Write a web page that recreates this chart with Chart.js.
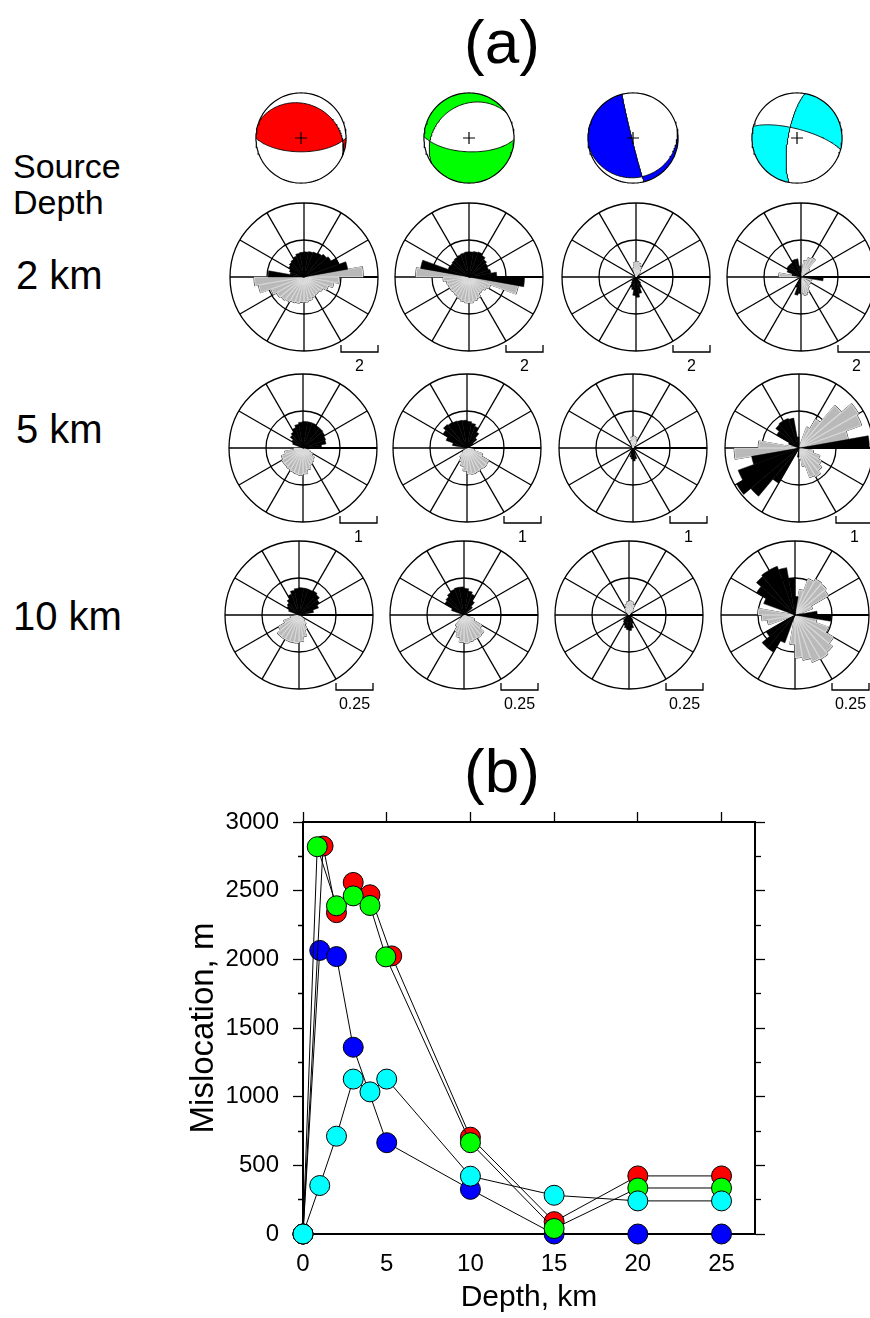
<!DOCTYPE html>
<html><head><meta charset="utf-8">
<script src="https://cdn.jsdelivr.net/npm/chart.js@4.4.1/dist/chart.umd.min.js"></script>
<style>
html,body{margin:0;padding:0;background:#fff;}
body{width:870px;height:1318px;position:relative;overflow:hidden;font-family:"Liberation Sans",Arial,sans-serif;color:#000;}
.t{position:absolute;line-height:1;white-space:nowrap;}
canvas{position:absolute;}
</style></head><body>
<div class="t" style="left:402px;width:200px;text-align:center;top:11px;font-size:62px;">(a)</div>
<div class="t" style="left:402px;width:200px;text-align:center;top:740px;font-size:62px;">(b)</div>
<div class="t" style="left:13px;top:149px;font-size:34px;">Source</div>
<div class="t" style="left:13px;top:184.5px;font-size:34px;">Depth</div>
<div class="t" id="d0" style="left:16px;top:255.4px;font-size:40px;"></div>
<div class="t" id="d1" style="left:16px;top:409.4px;font-size:40px;"></div>
<div class="t" id="d2" style="left:13px;top:596px;font-size:40px;"></div>
<script>
// ---------------- DATA ----------------
const depthLabels = ['2 km', '5 km', '10 km'];
const scaleBarValues = [2, 1, 0.25];
const scaleBarLabels = ['2', '1', '0.25'];
const azimuthBins = ['0','10','20','30','40','50','60','70','80','90','100','110','120','130','140','150','160','170',
  '180','190','200','210','220','230','240','250','260','270','280','290','300','310','320','330','340','350'];

// focal mechanisms (two nodal planes) and a point known to be in the shaded quadrant
const mechColors = ['#ff0000', '#00ff00', '#0000ff', '#00ffff'];
const mechStrike1 = [292, 236, 166, 285];
const mechDip1 = [25, 27, 88, 74];
const mechStrike2 = [90, 92, 80, 190];
const mechDip2 = [65, 65, 13, 74];
const mechShadedX = [0, 0, -0.8, 0.6];
const mechShadedY = [0, 0.95, 0, 0.6];

// rose diagrams, 10-degree azimuth bins (black and grey)
const rose2kmRedBlack = [1.36,1.4,1.44,1.5,1.6,1.7,2.0,2.4,0, 0,0,0,0,0,0,0,0,0,0,0,0,0,0,0,0,0,0, 1.94,0.76,0.84,0.96,1.04,1.1,1.2,1.3,1.34];
const rose2kmRedGray = [0,0,0,0,0,0,0,0,3.2,1.9,1.64,1.4,1.2,1.12,1.14,1.2,1.3,1.36,1.38,1.44,1.48,1.56,1.64,1.72,1.9,2.5,2.7,0,0,0,0,0,0,0,0,0];
const rose2kmGreenBlack = [1.36,1.4,1.44,1.36,1.24,1.16,1.12,1.2,1.5,3.0, 0,0,0,0,0,0,0,0,0,0,0,0,0,0,0,0,0,0, 2.66,1.2,1.16,1.2,1.24,1.28,1.32,1.36];
const rose2kmGreenGray = [0,0,0,0,0,0,0,0,0,0, 2.7,1.24,1.1,1.0,1.04,1.24,1.32,1.4,1.4,1.36,1.28,1.2,1.16,1.2,1.2,1.24,1.4,2.88, 0,0,0,0,0,0,0,0];
const rose2kmBlueBlack = [0,0,0,0,0,0,0,0,0,0,0,0,0,0, 0.4,0.6,0.9,1.1,1.0,0.7,0.6,0.4,0.3, 0,0,0,0,0,0,0,0,0,0,0,0,0];
const rose2kmBlueGray = [0.84,0.76,0.6,0.4, 0,0,0,0,0,0,0,0,0,0,0,0,0,0,0,0,0,0,0,0,0,0,0,0,0,0,0,0,0,0, 0.5,0.8];
const rose2kmCyanBlack = [0,0,0,0,0,0,0,0,0, 1.2, 0,0,0,0,0,0,0,0, 0.9,1.0,0.6, 0,0,0,0,0,0,0, 0.5,0.8,0.9,0.9,0.9,1.0,1.0,0.6];
const rose2kmCyanGray = [0,0.9,1.1,1.2,0.6,0,0,0,0,0, 0.6,0,0.6,0,0.7,0.9,1.0,0.9, 0,0,0,0,0,0,0,0,0, 1.2, 0,0,0,0,0,0,0,0];

const rose5kmRedBlack = [0.72,0.72,0.72,0.7,0.7,0.68,0.65,0.63,0.5, 0,0,0,0,0,0,0,0,0,0,0,0,0,0,0,0,0,0,0,0, 0.3,0.35,0.45,0.5,0.58,0.65,0.7];
const rose5kmRedGray = [0,0,0,0,0,0,0,0,0,0,0, 0.2,0.3,0.4,0.45,0.5,0.6,0.7,0.74,0.72,0.7,0.68,0.66,0.66,0.62,0.5,0.25, 0,0,0,0,0,0,0,0,0];
const rose5kmGreenBlack = [0.72,0.68,0.62,0.5,0.35,0.2, 0,0,0,0,0,0,0,0,0,0,0,0,0,0,0,0,0,0,0,0,0,0, 0.4,0.6,0.75,0.83,0.8,0.78,0.76,0.75];
const rose5kmGreenGray = [0,0,0,0,0,0,0,0,0,0, 0.2,0.45,0.68,0.7,0.68,0.7,0.72,0.7,0.62,0.5,0.4,0.3,0.15, 0,0,0,0,0,0,0,0,0,0,0,0,0];
const rose5kmBlueBlack = [0,0,0,0,0,0,0,0,0,0,0,0,0,0,0, 0.15,0.3,0.35,0.3,0.25,0.15, 0,0,0,0,0,0,0,0,0,0,0,0,0,0,0];
const rose5kmBlueGray = [0.32,0.3,0.2, 0,0,0,0,0,0,0,0,0,0,0,0,0,0,0,0,0,0,0,0,0,0,0,0,0,0,0,0,0,0,0, 0.2,0.3];
const rose5kmCyanBlack = [0,0,0,0,0,0,0,0, 1.9, 0,0,0,0,0,0,0,0,0, 0.25,0,0, 1.1,1.7,1.95,1.75,1.3, 0,0,0, 0.3,0.7,0.82,0.85,0.85,0.82,0.3];
const rose5kmCyanGray = [0,0,0.6,0.9,1.5,1.86,1.8,1.35,0,0,0.4,0.6,0.7,0.8,0.9,0.85,0.5,0.3,0,0,0,0,0,0,0,1.2,1.75,1.1,0,0,0,0,0,0,0,0];

const rose10kmRedBlack = [0.185,0.185,0.185,0.19,0.18,0.16,0.14,0.1,0.05, 0,0,0,0,0,0,0,0,0,0,0,0,0,0,0,0,0,0,0,0, 0.075,0.095,0.105,0.125,0.15,0.17,0.18];
const rose10kmRedGray = [0,0,0,0,0,0,0,0,0,0,0,0,0, 0.05,0.075,0.11,0.15,0.18,0.19,0.19,0.19,0.19,0.19,0.16,0.11,0.06, 0,0,0,0,0,0,0,0,0,0];
const rose10kmGreenBlack = [0.18,0.165,0.15,0.11,0.075, 0,0,0,0,0,0,0,0,0,0,0,0,0,0,0,0,0,0,0,0,0,0,0,0, 0.09,0.15,0.16,0.175,0.185,0.19,0.19];
const rose10kmGreenGray = [0,0,0,0,0,0,0,0,0,0,0, 0.075,0.14,0.175,0.18,0.18,0.185,0.19,0.185,0.155,0.125,0.09, 0,0,0,0,0,0,0,0,0,0,0,0,0,0];
const rose10kmBlueBlack = [0,0,0,0,0,0,0,0,0,0,0,0,0,0, 0.04,0.06,0.09,0.105,0.1,0.09,0.075,0.06,0.05, 0,0,0,0,0,0,0,0,0,0,0,0,0];
const rose10kmBlueGray = [0.095,0.09,0.075,0.05, 0,0,0,0,0,0,0,0,0,0,0,0,0,0,0,0,0,0,0,0,0,0,0,0,0,0,0,0, 0.04,0.055,0.075,0.09];
const rose10kmCyanBlack = [0.125, 0,0,0,0,0,0,0, 0.15,0.245, 0,0,0,0,0,0,0,0,0,0, 0.2,0.29,0.29,0.225, 0,0,0,0,0, 0.225,0.3,0.34,0.35,0.35,0.325,0.25];
const rose10kmCyanGray = [0, 0.175,0.26,0.28,0.275,0.26,0.125, 0,0,0, 0.15,0.24,0.3,0.33,0.345,0.34,0.31,0.29,0.2, 0,0,0,0,0,0, 0.19,0.225,0.25, 0,0,0,0,0,0,0,0];

// panel (b): mislocation vs depth
const depthRed = [0, 1.2, 2, 3, 4, 5.3, 10, 15, 20, 25];
const misRed = [0, 2825, 2340, 2560, 2470, 2025, 705, 90, 423, 423];
const depthGreen = [0, 0.85, 2, 3, 4, 4.95, 10, 15, 20, 25];
const misGreen = [0, 2820, 2390, 2462, 2392, 2018, 665, 40, 335, 335];
const depthBlue = [0, 1, 2, 3, 5, 10, 15, 20, 25];
const misBlue = [0, 2065, 2020, 1360, 665, 325, 0, 0, 0];
const depthCyan = [0, 1, 2, 3, 4, 5, 10, 15, 20, 25];
const misCyan = [0, 353, 712, 1128, 1035, 1128, 421, 282, 241, 241];

// ---------------- LAYOUT ----------------
const FF = '"Liberation Sans", Arial, sans-serif';
const roseCx = [[304, 469.3, 635.7, 800.7], [302.7, 467.3, 633.3, 799], [299, 464.3, 629.3, 795.3]];
const roseCy = [276.7, 447.7, 614.5];
const ballCx = [300.8, 468.8, 632.8, 797.2];
const ballCy = 138.2;

Chart.defaults.animation = false;
Chart.defaults.font.family = FF;
Chart.defaults.color = '#000';

depthLabels.forEach((t, i) => { document.getElementById('d' + i).textContent = t; });

const roseBlack = [
  [rose2kmRedBlack, rose2kmGreenBlack, rose2kmBlueBlack, rose2kmCyanBlack],
  [rose5kmRedBlack, rose5kmGreenBlack, rose5kmBlueBlack, rose5kmCyanBlack],
  [rose10kmRedBlack, rose10kmGreenBlack, rose10kmBlueBlack, rose10kmCyanBlack]];
const roseGray = [
  [rose2kmRedGray, rose2kmGreenGray, rose2kmBlueGray, rose2kmCyanGray],
  [rose5kmRedGray, rose5kmGreenGray, rose5kmBlueGray, rose5kmCyanGray],
  [rose10kmRedGray, rose10kmGreenGray, rose10kmBlueGray, rose10kmCyanGray]];

// ---------------- BEACH BALLS ----------------
const D2R = Math.PI / 180;
function cross(a, b) { return [a[1]*b[2]-a[2]*b[1], a[2]*b[0]-a[0]*b[2], a[0]*b[1]-a[1]*b[0]]; }
function dot(a, b) { return a[0]*b[0] + a[1]*b[1] + a[2]*b[2]; }
function planeVecs(strike, dip) {
  const s = strike * D2R, d = dip * D2R, dd = s + Math.PI / 2;
  return [[Math.cos(s), Math.sin(s), 0], [Math.cos(d)*Math.cos(dd), Math.cos(d)*Math.sin(dd), Math.sin(d)]];
}
function pole(strike, dip) { const [a, b] = planeVecs(strike, dip); return cross(a, b); }
function proj(v) {
  const th = Math.acos(Math.max(-1, Math.min(1, v[2])));
  const az = Math.atan2(v[1], v[0]);
  const r = Math.SQRT2 * Math.sin(th / 2);
  return {x: r * Math.sin(az), y: r * Math.cos(az)};
}
function inv(x, y) {
  const r = Math.hypot(x, y);
  const th = 2 * Math.asin(Math.min(1, r / Math.SQRT2));
  const az = Math.atan2(x, y);
  return [Math.sin(th)*Math.cos(az), Math.sin(th)*Math.sin(az), Math.cos(th)];
}
function planeCurve(strike, dip) {
  const [sh, dh] = planeVecs(strike, dip);
  const pts = [];
  for (let t = 0; t <= 180; t += 2) {
    const c = Math.cos(t * D2R), sn = Math.sin(t * D2R);
    pts.push(proj([c*sh[0]+sn*dh[0], c*sh[1]+sn*dh[1], c*sh[2]+sn*dh[2]]));
  }
  return pts;
}
function hexRgb(h) { return [parseInt(h.slice(1,3),16), parseInt(h.slice(3,5),16), parseInt(h.slice(5,7),16)]; }

const ballFillPlugin = {
  id: 'ballFill',
  beforeDatasetsDraw(chart, args, opts) {
    const k = opts.k;
    const xs = chart.scales.x, ys = chart.scales.y;
    const W = chart.width, H = chart.height;
    const n1 = pole(mechStrike1[k], mechDip1[k]), n2 = pole(mechStrike2[k], mechDip2[k]);
    const f = v => dot(n1, v) * dot(n2, v);
    const ref = Math.sign(f(inv(mechShadedX[k], mechShadedY[k])));
    const col = hexRgb(mechColors[k]);
    const off = document.createElement('canvas'); off.width = W; off.height = H;
    const octx = off.getContext('2d');
    const img = octx.createImageData(W, H);
    const SS = 4;
    for (let py = 0; py < H; py++) {
      for (let px = 0; px < W; px++) {
        let inside = 0, shaded = 0;
        for (let sy = 0; sy < SS; sy++) for (let sx = 0; sx < SS; sx++) {
          const X = xs.getValueForPixel(px + (sx + 0.5) / SS);
          const Y = ys.getValueForPixel(py + (sy + 0.5) / SS);
          if (X*X + Y*Y <= 1) { inside++; if (Math.sign(f(inv(X, Y))) === ref) shaded++; }
        }
        if (inside) {
          const sh = shaded / inside, o = (py * W + px) * 4;
          img.data[o] = col[0]*sh + 255*(1-sh);
          img.data[o+1] = col[1]*sh + 255*(1-sh);
          img.data[o+2] = col[2]*sh + 255*(1-sh);
          img.data[o+3] = 255 * inside / (SS*SS);
        }
      }
    }
    octx.putImageData(img, 0, 0);
    chart.ctx.drawImage(off, 0, 0);
  }
};

function makeBall(k) {
  const cv = document.createElement('canvas');
  cv.width = 110; cv.height = 110;
  cv.style.left = (Math.round(ballCx[k]) - 55) + 'px';
  cv.style.top = (Math.round(ballCy) - 55) + 'px';
  document.body.appendChild(cv);
  const circle = [];
  for (let a = 0; a <= 360; a += 3) circle.push({x: Math.sin(a * D2R), y: Math.cos(a * D2R)});
  const R = 1.22;
  new Chart(cv, {
    type: 'scatter',
    data: {datasets: [
      {data: [{x: 0, y: 0}], pointStyle: 'cross', pointRadius: 6, pointBorderColor: '#000', pointBorderWidth: 1.2, showLine: false},
      {data: planeCurve(mechStrike1[k], mechDip1[k]), showLine: true, borderColor: '#000', borderWidth: 0.9, pointRadius: 0},
      {data: planeCurve(mechStrike2[k], mechDip2[k]), showLine: true, borderColor: '#000', borderWidth: 0.9, pointRadius: 0},
      {data: circle, showLine: true, borderColor: '#000', borderWidth: 1.2, pointRadius: 0}
    ]},
    options: {
      responsive: false, animation: false, layout: {padding: 0, autoPadding: false},
      scales: {x: {type: 'linear', min: -R, max: R, display: false}, y: {type: 'linear', min: -R, max: R, display: false}},
      plugins: {legend: {display: false}, tooltip: {enabled: false}, ballFill: {k: k}}
    },
    plugins: [ballFillPlugin]
  });
}
for (let k = 0; k < 4; k++) makeBall(k);

// ---------------- ROSE DIAGRAMS ----------------
const scaleBarPlugin = {
  id: 'scaleBar',
  afterDraw(chart, args, opts) {
    const s = chart.scales.r, ctx = chart.ctx;
    const x1 = s.xCenter + s.getDistanceFromCenterForValue(opts.value);
    const x2 = s.xCenter + s.getDistanceFromCenterForValue(2 * opts.value);
    const y = s.yCenter + s.drawingArea + 1;
    ctx.save();
    ctx.strokeStyle = '#000'; ctx.lineWidth = 1.3;
    ctx.beginPath(); ctx.moveTo(x1, y - 7); ctx.lineTo(x1, y); ctx.lineTo(x2, y); ctx.lineTo(x2, y - 7); ctx.stroke();
    ctx.fillStyle = '#000'; ctx.font = '16px ' + FF; ctx.textAlign = 'center'; ctx.textBaseline = 'middle';
    ctx.fillText(opts.label, (x1 + x2) / 2, y + 15);
    ctx.restore();
  }
};

function makeRose(row, col) {
  const cv = document.createElement('canvas');
  cv.width = 170; cv.height = 200;
  const cx = Math.round(roseCx[row][col]), cy = Math.round(roseCy[row]);
  cv.style.left = (cx - 85) + 'px'; cv.style.top = (cy - 84) + 'px';
  document.body.appendChild(cv);
  const v = scaleBarValues[row];
  new Chart(cv, {
    type: 'polarArea',
    data: {labels: azimuthBins, datasets: [
      {data: roseBlack[row][col], backgroundColor: '#000', borderColor: '#000', borderWidth: 0.5, clip: false},
      {data: roseGray[row][col], backgroundColor: '#b9b9b9', borderColor: '#dcdcdc', borderWidth: 0.6, borderAlign: 'inner', clip: false},
      {data: roseGray[row][col], backgroundColor: '#b9b9b9', borderColor: '#444', borderWidth: 1.1, clip: false}
    ]},
    options: {
      responsive: false, animation: false,
      layout: {padding: {left: 11, right: 11, top: 10, bottom: 42}},
      scales: {r: {
        min: 0, max: 2 * v, startAngle: 0,
        ticks: {display: false, stepSize: v},
        grid: {color: '#000', lineWidth: 1.3, circular: true},
        angleLines: {display: true, color: '#000', lineWidth: c => c.index % 3 === 0 ? (c.index === 9 ? 2.2 : 1.3) : 0},
        pointLabels: {display: false}
      }},
      plugins: {legend: {display: false}, tooltip: {enabled: false}, scaleBar: {value: v, label: scaleBarLabels[row]}}
    },
    plugins: [scaleBarPlugin]
  });
}
for (let r = 0; r < 3; r++) for (let c = 0; c < 4; c++) makeRose(r, c);

// ---------------- PANEL (b) ----------------
function pts(xs, ys) { return xs.map((x, i) => ({x: x, y: ys[i]})); }
const cvb = document.createElement('canvas');
cvb.width = 620; cvb.height = 528;
cvb.style.left = '170px'; cvb.style.top = '790px';
document.body.appendChild(cvb);
const lineDs = (data, color, order) => ({
  data: data, order: order, borderColor: '#000', borderWidth: 1, tension: 0, clip: false,
  pointRadius: 10, pointBackgroundColor: color, pointBorderColor: '#000', pointBorderWidth: 1
});
const isMinor = c => c.tick && Math.round(c.tick.value) % 500 !== 0;
new Chart(cvb, {
  type: 'line',
  data: {datasets: [
    lineDs(pts(depthCyan, misCyan), '#00ffff', 0),
    lineDs(pts(depthGreen, misGreen), '#00ff00', 1),
    lineDs(pts(depthRed, misRed), '#ff0000', 2),
    lineDs(pts(depthBlue, misBlue), '#0000ff', 3)
  ]},
  options: {
    responsive: false, animation: false, layout: {padding: 0, autoPadding: false},
    plugins: {legend: {display: false}, tooltip: {enabled: false}},
    scales: {
      x: {type: 'linear', position: 'bottom', min: 0, max: 27,
        afterFit: s => { s.height = 84; },
        ticks: {stepSize: 5, includeBounds: false, autoSkip: false, maxRotation: 0, font: {size: 24}, color: '#000', padding: 16},
        grid: {drawOnChartArea: false, drawTicks: false},
        border: {color: '#000', width: 2},
        title: {display: true, text: 'Depth, km', font: {size: 30}, color: '#000', padding: {top: 0, bottom: 2}}},
      x2: {type: 'linear', position: 'top', min: 0, max: 27,
        afterFit: s => { s.height = 32; },
        ticks: {display: false, stepSize: 5, includeBounds: false, autoSkip: false},
        grid: {drawOnChartArea: false, drawTicks: true, tickLength: 10, tickColor: '#000', tickWidth: 1.3},
        border: {color: '#000', width: 2}},
      y: {type: 'linear', position: 'left', min: 0, max: 3000,
        afterFit: s => { s.width = 133; },
        ticks: {stepSize: 250, autoSkip: false, callback: v => (Math.round(v) % 500 === 0 ? String(v) : ''), font: {size: 24}, color: '#000', padding: 14},
        grid: {drawOnChartArea: false, tickLength: 10, tickColor: '#000', tickWidth: 1.3, tickBorderDash: c => (isMinor(c) ? [0, 5, 5, 100] : [])},
        border: {color: '#000', width: 2},
        title: {display: true, text: 'Mislocation, m', font: {size: 33}, color: '#000', padding: {top: 14, bottom: 0}}},
      y2: {type: 'linear', position: 'right', min: 0, max: 3000,
        afterFit: s => { s.width = 35; },
        ticks: {display: false, stepSize: 250, autoSkip: false},
        grid: {drawOnChartArea: false, tickLength: 10, tickColor: '#000', tickWidth: 1.3, tickBorderDash: c => (isMinor(c) ? [5, 100] : [])},
        border: {color: '#000', width: 2}}
    }
  }
});
</script>
</body></html>
